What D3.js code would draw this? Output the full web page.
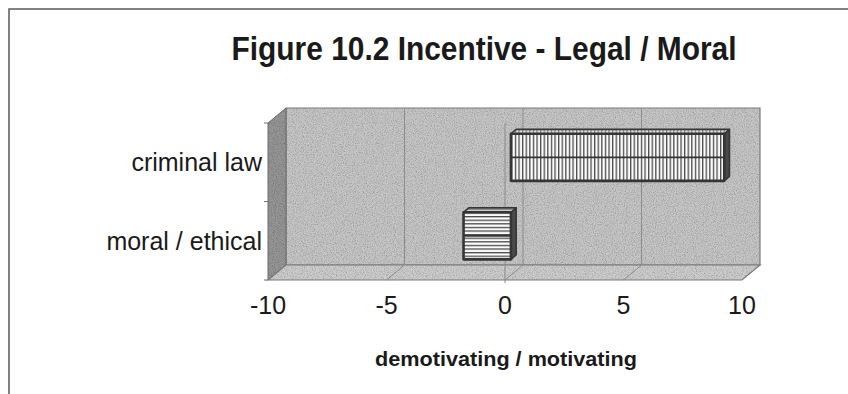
<!DOCTYPE html>
<html>
<head>
<meta charset="utf-8">
<script src="https://cdn.jsdelivr.net/npm/d3@7/dist/d3.min.js"></script>
<style>
  html, body { margin: 0; padding: 0; background: #fff; }
  svg { display: block; }
  text { font-family: "Liberation Sans", Arial, sans-serif; fill: #1a1a1a; }
</style>
</head>
<body>
<svg id="chart" width="848" height="394"></svg>
<script>
// Chart data
const categories = ["criminal law", "moral / ethical"];
const values = [9, -2];
const tickValues = [-10, -5, 0, 5, 10];
const tickLabels = ["-10", "-5", "0", "5", "10"];
const titleText = "Figure 10.2 Incentive - Legal / Moral";
const axisTitle = "demotivating / motivating";

const svg = d3.select("#chart");

// Front plane of the 3D box and depth offset toward the back wall
const front = { left: 268, right: 742, top: 123, bottom: 280 };
const DX = 18, DY = -15;          // back = front + (DX, DY)
const Z0 = 0.33, Z1 = 0.62;       // bar depth (0 = front, 1 = back)

const x = d3.scaleLinear().domain([-10, 10]).range([front.left, front.right]);
const y = d3.scaleBand().domain(categories)
  .range([front.top, front.bottom]).paddingInner(0.4).paddingOuter(0.2);

const P = (px, py, z) => [px + DX * z, py + DY * z];

const defs = svg.append("defs");

// Speckled texture for the wall fills
const grain = defs.append("filter").attr("id", "grain")
  .attr("x", 0).attr("y", 0).attr("width", "100%").attr("height", "100%");
grain.append("feTurbulence").attr("type", "fractalNoise").attr("baseFrequency", 0.9)
  .attr("numOctaves", 2).attr("seed", 4).attr("result", "n");
grain.append("feColorMatrix").attr("in", "n").attr("type", "matrix")
  .attr("values", "0 0 0 0 0  0 0 0 0 0  0 0 0 0 0  0.9 0 0 0 -0.35").attr("result", "a");
grain.append("feComposite").attr("in", "a").attr("in2", "SourceGraphic").attr("operator", "in").attr("result", "dots");
grain.append("feMerge").selectAll("feMergeNode").data(["SourceGraphic", "dots"]).join("feMergeNode")
  .attr("in", d => d);

// Hatch patterns for bar faces
function hatch(id, vertical, bg, line, gap, w) {
  const p = defs.append("pattern").attr("id", id)
    .attr("patternUnits", "userSpaceOnUse")
    .attr("width", vertical ? gap : 8).attr("height", vertical ? 8 : gap);
  p.append("rect").attr("width", vertical ? gap : 8).attr("height", vertical ? 8 : gap).attr("fill", bg);
  if (vertical) p.append("rect").attr("x", 0).attr("y", 0).attr("width", w).attr("height", 8).attr("fill", line);
  else p.append("rect").attr("x", 0).attr("y", 0).attr("width", 8).attr("height", w).attr("fill", line);
}
hatch("vHatch", true, "#fbfbfb", "#4a4a4a", 3.6, 1.3);
hatch("hHatch", false, "#fbfbfb", "#4a4a4a", 3.6, 1.3);
hatch("vHatchTop", true, "#e0e0e0", "#7a7a7a", 3.6, 1.2);
hatch("hHatchTop", false, "#e0e0e0", "#7a7a7a", 3.6, 1.2);

// Page frame
svg.append("path").attr("d", "M9,394 L9,9 L848,9")
  .attr("fill", "none").attr("stroke", "#5a5a5a").attr("stroke-width", 1.5);

// Title
svg.append("text").attr("x", 484).attr("y", 60).attr("text-anchor", "middle")
  .attr("font-size", 33).attr("font-weight", "bold")
  .attr("textLength", 505).attr("lengthAdjust", "spacingAndGlyphs").text(titleText);

const line = d3.line();

// Back wall
const bw = [P(front.left, front.top, 1), P(front.right, front.top, 1),
            P(front.right, front.bottom, 1), P(front.left, front.bottom, 1)];
svg.append("path").attr("d", line(bw) + "Z")
  .attr("fill", "#c6c6c6").attr("filter", "url(#grain)");
svg.append("path").attr("d", line(bw) + "Z")
  .attr("fill", "none").attr("stroke", "#7a7a7a").attr("stroke-width", 1.2);

// Left wall
const lw = [[front.left, front.top], P(front.left, front.top, 1),
            P(front.left, front.bottom, 1), [front.left, front.bottom]];
svg.append("path").attr("d", line(lw) + "Z")
  .attr("fill", "#969696").attr("filter", "url(#grain)");
svg.append("path").attr("d", line(lw) + "Z")
  .attr("fill", "none").attr("stroke", "#6a6a6a").attr("stroke-width", 1);

// Floor
const fl = [[front.left, front.bottom], P(front.left, front.bottom, 1),
            P(front.right, front.bottom, 1), [front.right, front.bottom]];
svg.append("path").attr("d", line(fl) + "Z")
  .attr("fill", "#cdcdcd").attr("filter", "url(#grain)");
svg.append("path").attr("d", line(fl) + "Z")
  .attr("fill", "none").attr("stroke", "#7a7a7a").attr("stroke-width", 1.2);

// Gridlines on back wall and floor
const inner = tickValues.slice(1, -1);
svg.selectAll(".gridBack").data(inner).join("line")
  .attr("x1", d => P(x(d), front.top, 1)[0]).attr("y1", P(0, front.top, 1)[1])
  .attr("x2", d => P(x(d), front.bottom, 1)[0]).attr("y2", P(0, front.bottom, 1)[1])
  .attr("stroke", "#8c8c8c").attr("stroke-width", 1);
svg.selectAll(".gridFloor").data(inner).join("line")
  .attr("x1", d => P(x(d), front.bottom, 1)[0]).attr("y1", P(0, front.bottom, 1)[1])
  .attr("x2", d => x(d)).attr("y2", front.bottom)
  .attr("stroke", "#8c8c8c").attr("stroke-width", 1);

// Category axis line at zero on the front plane
svg.append("line").attr("x1", x(0)).attr("x2", x(0))
  .attr("y1", front.top).attr("y2", front.bottom + 3)
  .attr("stroke", "#8a8a8a").attr("stroke-width", 1);

// Category tick marks on the left wall edge
const catTicks = [front.top, front.bottom].concat(categories.slice(1).map(c => y(c) - y.step() * y.paddingInner() / 2));
svg.selectAll(".catTick").data(catTicks).join("line")
  .attr("x1", front.left - 4).attr("x2", front.left)
  .attr("y1", d => d).attr("y2", d => d)
  .attr("stroke", "#707070").attr("stroke-width", 1);

// Bars as 3D boxes
const bars = categories.map((c, i) => ({ c, v: values[i], vertical: i === 0 }));
const g = svg.append("g");
bars.forEach(b => {
  const xa = x(Math.min(0, b.v)), xb = x(Math.max(0, b.v));
  const ya = y(b.c), yb = y(b.c) + y.bandwidth();
  const f = [P(xa, ya, Z0), P(xb, ya, Z0), P(xb, yb, Z0), P(xa, yb, Z0)];
  const top = [P(xa, ya, Z0), P(xb, ya, Z0), P(xb, ya, Z1), P(xa, ya, Z1)];
  const side = [P(xb, ya, Z0), P(xb, ya, Z1), P(xb, yb, Z1), P(xb, yb, Z0)];
  const stroke = "#353535";
  g.append("path").attr("d", line(side) + "Z").attr("fill", "#4a4a4a")
    .attr("stroke", stroke).attr("stroke-width", 1.6).attr("stroke-linejoin", "round");
  g.append("path").attr("d", line(top) + "Z")
    .attr("fill", b.vertical ? "url(#vHatchTop)" : "url(#hHatchTop)")
    .attr("stroke", stroke).attr("stroke-width", 1.6).attr("stroke-linejoin", "round");
  g.append("path").attr("d", line(f) + "Z")
    .attr("fill", b.vertical ? "url(#vHatch)" : "url(#hHatch)")
    .attr("stroke", stroke).attr("stroke-width", 2.6).attr("stroke-linejoin", "round");
  const ym = (ya + yb) / 2;
  const m = [P(xa, ym, Z0), P(xb, ym, Z0)];
  g.append("path").attr("d", line(m)).attr("stroke", stroke).attr("stroke-width", 1.8);
});

// Category labels
svg.selectAll(".catLabel").data(categories).join("text")
  .attr("x", 262).attr("y", d => y(d) + y.bandwidth() / 2 + 9)
  .attr("text-anchor", "end").attr("font-size", 25).text(d => d);

// Value tick labels along the front edge
svg.selectAll(".tickLabel").data(tickValues).join("text")
  .attr("x", d => x(d)).attr("y", 314).attr("text-anchor", "middle")
  .attr("font-size", 25).text((d, i) => tickLabels[i]);

// Value axis title
svg.append("text").attr("x", 506).attr("y", 366).attr("text-anchor", "middle")
  .attr("font-size", 21).attr("font-weight", "bold")
  .attr("textLength", 262).attr("lengthAdjust", "spacingAndGlyphs").text(axisTitle);
</script>
</body>
</html>
